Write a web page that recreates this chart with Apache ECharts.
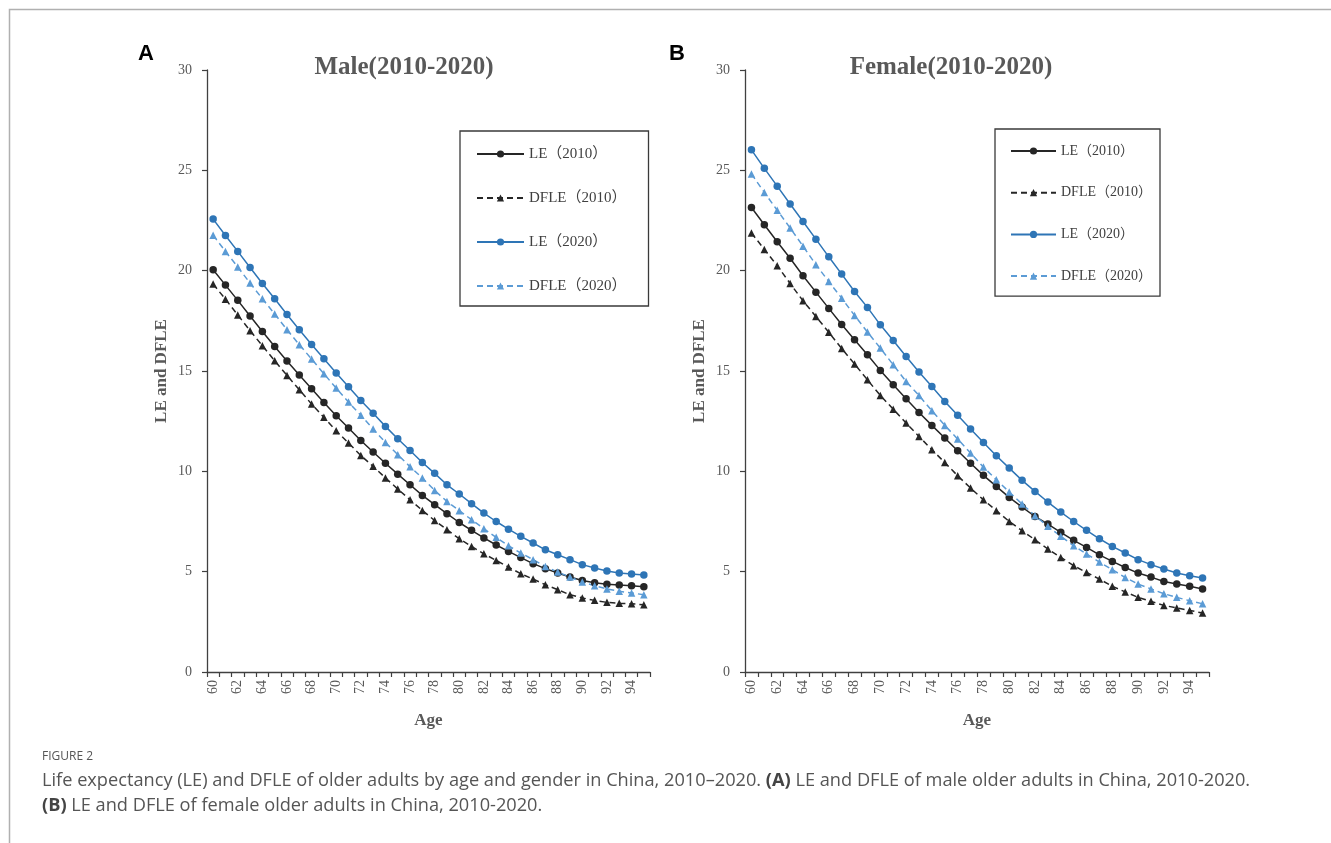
<!DOCTYPE html>
<html>
<head>
<meta charset="utf-8">
<script src="https://cdn.jsdelivr.net/npm/echarts@6/dist/echarts.min.js"></script>
<style>
html,body{margin:0;padding:0;background:#fff;}
#c{width:1331px;height:843px;}
</style>
</head>
<body>
<div id="c"></div>
<script>
// ---------- DATA ----------
var ages = ['60','61','62','63','64','65','66','67','68','69','70','71','72','73','74','75','76','77','78','79','80','81','82','83','84','85','86','87','88','89','90','91','92','93','94','95'];
var seriesNames = ['LE（2010）', 'DFLE（2010）', 'LE（2020）', 'DFLE（2020）'];
var yTicks = [0, 30, 5]; // min, max, interval

var maleLE2010   = [20.05,19.28,18.52,17.74,16.97,16.22,15.50,14.80,14.12,13.43,12.77,12.16,11.54,10.96,10.40,9.86,9.33,8.80,8.34,7.89,7.45,7.06,6.68,6.33,6.01,5.70,5.40,5.15,4.93,4.73,4.56,4.45,4.37,4.33,4.30,4.25];
var maleDFLE2010 = [19.33,18.58,17.79,17.01,16.26,15.51,14.78,14.07,13.35,12.69,12.02,11.41,10.79,10.25,9.67,9.12,8.58,8.05,7.55,7.09,6.64,6.26,5.89,5.56,5.23,4.90,4.63,4.35,4.10,3.85,3.69,3.57,3.47,3.42,3.40,3.35];
var maleLE2020   = [22.57,21.75,20.96,20.16,19.36,18.60,17.82,17.06,16.32,15.61,14.90,14.22,13.53,12.89,12.24,11.62,11.04,10.44,9.90,9.33,8.87,8.39,7.92,7.50,7.12,6.76,6.43,6.09,5.84,5.60,5.35,5.18,5.03,4.93,4.88,4.83];
var maleDFLE2020 = [21.76,20.96,20.18,19.38,18.60,17.84,17.06,16.31,15.60,14.86,14.15,13.45,12.79,12.11,11.44,10.83,10.23,9.67,9.05,8.50,8.04,7.59,7.14,6.71,6.29,5.93,5.60,5.26,4.98,4.73,4.48,4.30,4.14,4.02,3.94,3.85];

var femaleLE2010   = [23.15,22.29,21.44,20.62,19.75,18.93,18.12,17.32,16.56,15.81,15.03,14.31,13.62,12.93,12.29,11.66,11.03,10.40,9.80,9.25,8.70,8.22,7.75,7.37,6.96,6.56,6.21,5.84,5.51,5.21,4.93,4.73,4.51,4.38,4.27,4.14];
var femaleDFLE2010 = [21.88,21.06,20.25,19.36,18.50,17.72,16.93,16.12,15.35,14.56,13.78,13.10,12.41,11.74,11.08,10.44,9.78,9.17,8.58,8.04,7.50,7.04,6.59,6.13,5.71,5.30,4.96,4.63,4.27,3.99,3.72,3.52,3.32,3.19,3.07,2.94];
var femaleLE2020   = [26.02,25.10,24.21,23.32,22.45,21.57,20.69,19.83,18.96,18.17,17.30,16.52,15.72,14.95,14.23,13.48,12.79,12.11,11.44,10.78,10.16,9.55,9.00,8.47,7.97,7.50,7.06,6.64,6.26,5.93,5.60,5.35,5.13,4.93,4.80,4.68];
var femaleDFLE2020 = [24.82,23.90,23.01,22.13,21.22,20.30,19.46,18.63,17.77,16.94,16.14,15.31,14.48,13.78,13.02,12.29,11.61,10.91,10.21,9.58,8.97,8.37,7.79,7.26,6.76,6.29,5.88,5.48,5.10,4.71,4.38,4.14,3.90,3.72,3.55,3.40];

var panelTitles = ['Male(2010-2020)', 'Female(2010-2020)'];
var panelLetters = ['A', 'B'];
var yName = 'LE and DFLE';
var xName = 'Age';

// ---------- STYLE ----------
var SERIF = '"Liberation Serif", "Times New Roman", "Noto Sans CJK SC", serif';
var GRAY = '#595959';
var AXIS = '#404040';
var styles = [
  {color:'#262626', type:'solid',  symbol:'circle'},
  {color:'#262626', type:[6,4],    symbol:'triangle'},
  {color:'#2E75B6', type:'solid',  symbol:'circle'},
  {color:'#5B9BD5', type:[6,4],    symbol:'triangle'}
];
var grids = [
  {left:207, top:70, width:443, height:602},
  {left:745, top:70, width:464, height:602}
];

function xAxis(i){
  return {
    type:'category', gridIndex:i, data:ages, boundaryGap:true,
    name:xName, nameLocation:'middle', nameGap:40,
    nameTextStyle:{fontFamily:SERIF, fontWeight:'bold', fontSize:17, color:GRAY},
    axisLine:{show:true, lineStyle:{color:AXIS, width:1.3}},
    axisTick:{show:true, interval:0, length:5, lineStyle:{color:AXIS, width:1.2}},
    axisLabel:{interval:1, rotate:90, fontFamily:SERIF, fontSize:14, color:GRAY, margin:8},
    splitLine:{show:false}
  };
}
function yAxis(i){
  return {
    type:'value', gridIndex:i, min:yTicks[0], max:yTicks[1], interval:yTicks[2],
    name:yName, nameLocation:'middle', nameGap:37, nameRotate:90,
    nameTextStyle:{fontFamily:SERIF, fontWeight:'bold', fontSize:17, color:GRAY},
    axisLine:{show:true, lineStyle:{color:AXIS, width:1.3}},
    axisTick:{show:true, length:5, lineStyle:{color:AXIS, width:1.2}},
    axisLabel:{fontFamily:SERIF, fontSize:14, color:GRAY, margin:15},
    splitLine:{show:false}
  };
}
function mk(i, k, data){
  var s = styles[k];
  return {
    type:'line', name:seriesNames[k], xAxisIndex:i, yAxisIndex:i, data:data,
    symbol:s.symbol, symbolSize:7.5, showSymbol:true, smooth:false,
    lineStyle:{color:s.color, width:1.5, type:s.type},
    itemStyle:{color:s.color, borderWidth:0},
    emphasis:{disabled:true}, animation:false
  };
}
function legend(left, top, pad, gap, w, fs){
  return {
    orient:'vertical', left:left, top:top, padding:pad, itemGap:gap,
    itemWidth:w, itemHeight:9, itemTextGap:5,
    borderColor:'#3a3a3a', borderWidth:1.3, borderRadius:0,
    data:seriesNames,
    textStyle:{fontFamily:SERIF, fontSize:fs, color:'#404040', lineHeight:16},
    selectedMode:false
  };
}

var chart = echarts.init(document.getElementById('c'), null, {renderer:'canvas'});
chart.setOption({
  backgroundColor:'#fff',
  animation:false,
  grid:grids,
  xAxis:[xAxis(0), xAxis(1)],
  yAxis:[yAxis(0), yAxis(1)],
  legend:[
    legend(460, 131, [15, 22, 12, 16], 28, 47, 15),
    legend(995, 129, [14, 8, 12, 15], 25.7, 45, 14)
  ],
  series:[
    mk(0,0,maleLE2010), mk(0,1,maleDFLE2010), mk(0,2,maleLE2020), mk(0,3,maleDFLE2020),
    mk(1,0,femaleLE2010), mk(1,1,femaleDFLE2010), mk(1,2,femaleLE2020), mk(1,3,femaleDFLE2020)
  ],
  graphic:[
    {type:'polyline', shape:{points:[[9.5,843],[9.5,9.5],[1331,9.5]]}, style:{stroke:'#b0b0b0', lineWidth:1.5, fill:null}, silent:true},
    {type:'text', left:138, top:43, style:{text:panelLetters[0], font:'bold 22px "Liberation Sans", Arial, sans-serif', fill:'#000'}},
    {type:'text', left:669, top:43, style:{text:panelLetters[1], font:'bold 22px "Liberation Sans", Arial, sans-serif', fill:'#000'}},
    {type:'text', x:404, y:68, style:{text:panelTitles[0], font:'bold 25px "Liberation Serif", serif', fill:GRAY, textAlign:'center', textVerticalAlign:'middle'}},
    {type:'text', x:951, y:68, style:{text:panelTitles[1], font:'bold 25px "Liberation Serif", serif', fill:GRAY, textAlign:'center', textVerticalAlign:'middle'}},
    {type:'text', x:42, y:757, style:{text:'FIGURE 2', font:'12px "Open Sans", sans-serif', fill:'#555', textVerticalAlign:'middle'}},
    {type:'text', x:42, y:768, style:{
      text:'Life expectancy (LE) and DFLE of older adults by age and gender in China, 2010–2020. {b|(A)} LE and DFLE of male older adults in China, 2010-2020.\n{b|(B)} LE and DFLE of female older adults in China, 2010-2020.',
      font:'18.2px "Open Sans", sans-serif', fill:'#555', lineHeight:25, textVerticalAlign:'top',
      rich:{b:{fontWeight:'bold', fontFamily:'"Open Sans", sans-serif', fontSize:18.2, fill:'#444', lineHeight:25}}
    }}
  ]
});
</script>
</body>
</html>
